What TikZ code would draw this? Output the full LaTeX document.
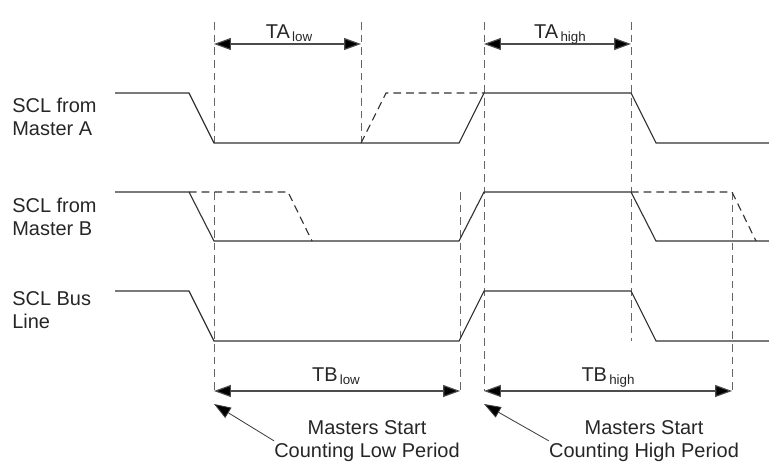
\documentclass[tikz,border=0pt]{standalone}
\usepackage{fontspec}
\setmainfont{Liberation Sans}
\usetikzlibrary{arrows.meta}

\newcommand\subtxt[1]{\raisebox{-0.35ex}{\fontsize{9.5}{10}\selectfont\,#1}}

\tikzset{
	sigtext/.style={font=\fontsize{14.2}{16.4}\selectfont, inner sep=0pt, text=black!85},
	wave/.style={draw=black!80, line width=0.8pt},
	wavedash/.style={wave, dash pattern=on 5.5pt off 3.5pt},
	guide/.style={draw=black!60, line width=0.7pt, dash pattern=on 5.5pt off 3.5pt},
	dimline/.style={draw=black!70, line width=0.8pt,
		{Triangle[length=12pt,width=8.5pt,fill=black]}-{Triangle[length=12pt,width=8.5pt,fill=black]}},
	notearrow/.style={draw=black!75, line width=0.6pt, -{Triangle[length=12pt,width=8.5pt,fill=black]}}
}

\begin{document}
\begin{tikzpicture}[x=0.025cm, y=-0.025cm]

		\useasboundingbox (0,0) rectangle (769,461);

		% signal names
		\node (lblA) at (12,117) [sigtext, anchor=west, align=left] {SCL from\\Master A};
		\node (lblB) at (12,217) [sigtext, anchor=west, align=left] {SCL from\\Master B};
		\node (lblBus) at (12,310) [sigtext, anchor=west, align=left] {SCL Bus\\Line};

		% timing marks
		\coordinate (aLowL) at (214,44);
		\coordinate (aLowR) at (361,44);
		\coordinate (aHighL) at (484,44);
		\coordinate (aHighR) at (631,44);
		\coordinate (bLowL) at (214,391);
		\coordinate (bLowR) at (460,391);
		\coordinate (bHighL) at (484,391);
		\coordinate (bHighR) at (732,391);

		\draw [guide] (214,22) -- (214,143);
		\draw [guide] (214,192) -- (bLowL);
		\draw [guide] (361,22) -- (361,143);
		\draw [guide] (484,22) -- (bHighL);
		\draw [guide] (460,192) -- (bLowR);
		\draw [guide] (631,22) -- (631,341);
		\draw [guide] (732,192) -- (bHighR);

		% Master A
		\draw [wave] (115,93) -- (189,93) -- (214,143) -- (459,143) -- (484,93) -- (631,93) -- (656,143) -- (769,143);
		\draw [wavedash] (361,143) -- (386,93) -- (484,93);

		% Master B
		\draw [wave] (115,192) -- (189,192) -- (214,241) -- (459,241) -- (484,192) -- (631,192) -- (656,241) -- (769,241);
		\draw [wavedash] (189,192) -- (288,192) -- (312,241);
		\draw [wavedash] (631,192) -- (732,192) -- (756,241);

		% bus line
		\draw [wave] (115,291) -- (189,291) -- (214,341) -- (459,341) -- (484,291) -- (631,291) -- (656,341) -- (769,341);

		% periods
		\draw [dimline] (aLowL) -- (aLowR);
		\node (taLow) at (289,38) [sigtext, anchor=base] {TA\subtxt{low}};
		\draw [dimline] (aHighL) -- (aHighR);
		\node (taHigh) at (560,38) [sigtext, anchor=base] {TA\subtxt{high}};

		\draw [dimline] (bLowL) -- (bLowR);
		\node (tbLow) at (336,381) [sigtext, anchor=base] {TB\subtxt{low}};
		\draw [dimline] (bHighL) -- (bHighR);
		\node (tbHigh) at (608,381) [sigtext, anchor=base] {TB\subtxt{high}};

		% notes
		\node (noteLow) at (367,420) [sigtext, anchor=north, align=center] {Masters Start\\Counting Low Period};
		\node (noteHigh) at (644,420) [sigtext, anchor=north, align=center] {Masters Start\\Counting High Period};
		\coordinate (startLow) at (214,404);
		\coordinate (startHigh) at (484,404);
		\draw [notearrow] (noteLow.west) -- (startLow);
		\draw [notearrow] (noteHigh.west) -- (startHigh);

		\end{tikzpicture}
\end{document}
